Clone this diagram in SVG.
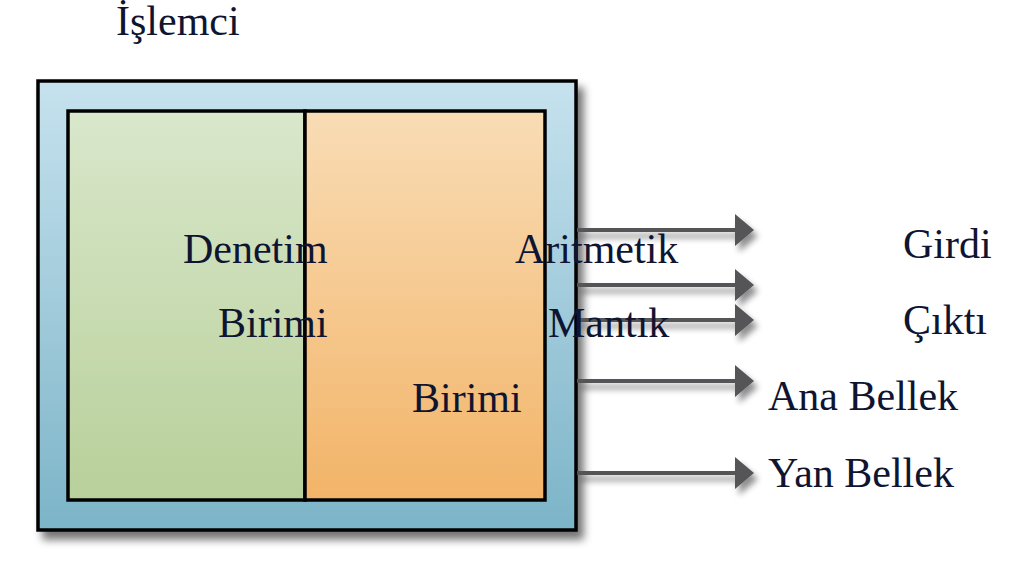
<svg xmlns="http://www.w3.org/2000/svg" width="1024" height="585" viewBox="0 0 1024 585">
<defs>
<linearGradient id="gBlue" x1="0" y1="0" x2="0" y2="1"><stop offset="0" stop-color="#c6e2ee"/><stop offset="1" stop-color="#7cb4c8"/></linearGradient>
<linearGradient id="gGreen" x1="0" y1="0" x2="0" y2="1"><stop offset="0" stop-color="#d9e7cb"/><stop offset="1" stop-color="#b8d09a"/></linearGradient>
<linearGradient id="gOrange" x1="0" y1="0" x2="0" y2="1"><stop offset="0" stop-color="#f9dcb5"/><stop offset="1" stop-color="#f2b468"/></linearGradient>
<filter id="shadow" x="-10%" y="-10%" width="130%" height="130%"><feGaussianBlur in="SourceAlpha" stdDeviation="4"/><feOffset dx="6" dy="8" result="b"/><feComponentTransfer><feFuncA type="linear" slope="0.55"/></feComponentTransfer><feMerge><feMergeNode/><feMergeNode in="SourceGraphic"/></feMerge></filter>
<filter id="ashadow" x="-10%" y="-100%" width="130%" height="400%"><feGaussianBlur in="SourceAlpha" stdDeviation="3"/><feOffset dx="4" dy="6" result="b"/><feComponentTransfer><feFuncA type="linear" slope="0.45"/></feComponentTransfer><feMerge><feMergeNode/><feMergeNode in="SourceGraphic"/></feMerge></filter>
<marker id="ah" markerUnits="userSpaceOnUse" markerWidth="20" markerHeight="32" refX="0" refY="16" orient="auto"><path d="M0,0 L19,16 L0,32 Z" fill="#555558"/></marker>
</defs>
<style>
text{font-family:"Liberation Serif","Times New Roman",serif;font-size:42px;fill:#0f1530}
.box{stroke:#000;stroke-width:3.5}
.arr{stroke:#555558;stroke-width:4;fill:none}
</style>
<rect width="1024" height="585" fill="#ffffff"/>
<g id="islemci">
<rect class="box" x="38" y="81" width="538" height="449" fill="url(#gBlue)" filter="url(#shadow)"/>
</g>
<g id="denetim-birimi">
<rect class="box" x="68" y="111" width="237" height="389" fill="url(#gGreen)"/>
</g>
<g id="aritmetik-mantik-birimi">
<rect class="box" x="305" y="111" width="240" height="389" fill="url(#gOrange)"/>
</g>
<g id="connectors" filter="url(#ashadow)">
<line class="arr" x1="577" y1="230" x2="735" y2="230" marker-end="url(#ah)"/>
<line class="arr" x1="577" y1="285" x2="735" y2="285" marker-end="url(#ah)"/>
<line class="arr" x1="577" y1="320" x2="735" y2="320" marker-end="url(#ah)"/>
<line class="arr" x1="577" y1="381" x2="735" y2="381" marker-end="url(#ah)"/>
<line class="arr" x1="577" y1="473" x2="735" y2="473" marker-end="url(#ah)"/>
</g>
<g id="labels">
<text x="116" y="35">İşlemci</text>
<text x="183" y="263">Denetim</text>
<text x="218" y="337">Birimi</text>
<text x="515" y="263">Aritmetik</text>
<text x="548" y="337">Mantık</text>
<text x="412" y="412">Birimi</text>
</g>
<g id="girdi"><text x="903" y="258">Girdi</text></g>
<g id="cikti"><text x="903" y="334">Çıktı</text></g>
<g id="ana-bellek"><text x="768" y="410">Ana Bellek</text></g>
<g id="yan-bellek"><text x="768" y="487">Yan Bellek</text></g>
</svg>
